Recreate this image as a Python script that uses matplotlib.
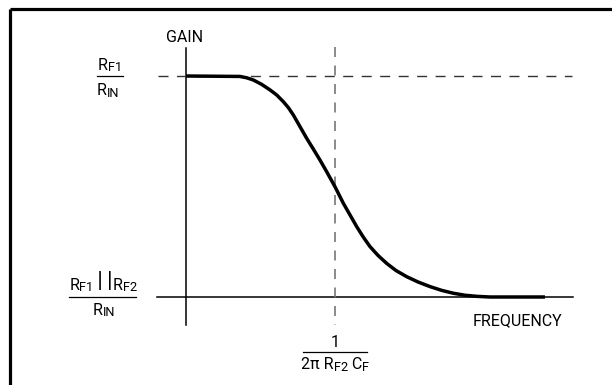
import matplotlib
matplotlib.use('Agg')
import matplotlib.pyplot as plt
from matplotlib.transforms import offset_copy

# normalized frequency (corner = 1) and normalized gain (RF1||RF2/RIN = 0, RF1/RIN = 1)
curve_freq = [0.0, 0.362, 0.407, 0.452, 0.508, 0.564, 0.609, 0.653, 0.687, 0.720,
              0.765, 0.810, 0.854, 0.899, 0.944, 1.0, 1.056, 1.101, 1.146, 1.190,
              1.235, 1.289, 1.347, 1.409, 1.481, 1.557, 1.638, 1.716, 1.794, 1.872,
              1.951, 2.040, 2.409]
curve_gain = [1.0, 0.998, 0.992, 0.982, 0.962, 0.937, 0.914, 0.884, 0.857, 0.824,
              0.771, 0.718, 0.670, 0.620, 0.567, 0.499, 0.424, 0.371, 0.318, 0.271,
              0.228, 0.188, 0.152, 0.120, 0.092, 0.068, 0.047, 0.030, 0.017, 0.008,
              0.003, 0.0, 0.0]

high_gain = 1.0
low_gain = 0.0
corner_freq = 1.0

plt.rcParams['font.family'] = ['Roboto', 'DejaVu Sans']

fig = plt.figure(figsize=(6.12, 3.85), dpi=100)
ax = fig.add_axes([0, 0, 1, 1])
ax.set_xlim(-1.2483, 2.8591)
ax.set_ylim(-0.3982, 1.3439)
ax.axis('off')

fs = 11.5


def label(x, y, parts):
    """parts: list of (text, size factor, vertical shift in px); centred on x, baseline y"""
    renderer = fig.canvas.get_renderer()
    texts = []
    for s, k, dy in parts:
        t = ax.text(x, y, s, fontsize=fs * k, ha='left', va='baseline')
        texts.append((t, dy))
    widths = [t.get_window_extent(renderer).width for t, _ in texts]
    cur = -sum(widths) / 2
    for (t, dy), w in zip(texts, widths):
        t.set_transform(offset_copy(ax.transData, fig=fig, x=cur, y=dy, units='dots'))
        cur += w


SUB = 0.8

# outer frame (only top and left edges fall inside the picture)
ax.plot([-1.181, 3.0], [1.303, 1.303], color='black', lw=2.3, solid_capstyle='butt')
ax.plot([-1.181, -1.181], [1.303, -0.5], color='black', lw=2.3, solid_capstyle='butt')

# axes
ax.plot([0, 0], [1.127, -0.127], color='black', lw=1.1)
ax.plot([-0.195, 2.597], [low_gain, low_gain], color='black', lw=1.1)

# reference lines
ax.plot([-0.188, 2.591], [high_gain, high_gain], color='#333333', lw=1.0,
        dashes=(7.2, 6.1))
ax.plot([corner_freq, corner_freq], [1.131, -0.127], color='#777777', lw=1.2,
        dashes=(6.0, 5.1))

# response curve
ax.plot(curve_freq, curve_gain, color='black', lw=2.5, solid_capstyle='butt',
        solid_joinstyle='round')

ax.text(-0.007, 1.154, 'GAIN', fontsize=fs, ha='center', va='baseline')

# RF1 / RIN
label(-0.510, 1.029, [('R', 1, 0), ('F1', SUB, -1.5)])
ax.plot([-0.597, -0.423], [high_gain, high_gain], color='black', lw=0.9)
label(-0.523, 0.914, [('R', 1, 0), ('IN', SUB, -1.5)])

# RF1||RF2 / RIN
label(-0.557, 0.032, [('R', 1, 0), ('F1', SUB, -1.5), ('\u2009|\u2009|', 1.35, 3),
                      ('R', 1, 0), ('F2', SUB, -1.5)])
ax.plot([-0.785, -0.336], [low_gain, low_gain], color='black', lw=0.9)
label(-0.550, -0.081, [('R', 1, 0), ('IN', SUB, -1.5)])

ax.text(2.225, -0.127, 'FREQUENCY', fontsize=fs, ha='center', va='baseline')

# 1 / (2 pi RF2 CF)
ax.text(corner_freq, -0.226, '1', fontsize=fs, ha='center', va='baseline')
ax.plot([0.785, 1.215], [-0.249, -0.249], color='black', lw=0.9)
label(corner_freq, -0.326, [('2π R', 1, 0), ('F2', SUB, -1.5), (' C', 1, 0),
                            ('F', SUB, -1.5)])

fig.savefig('out.png', dpi=100)
